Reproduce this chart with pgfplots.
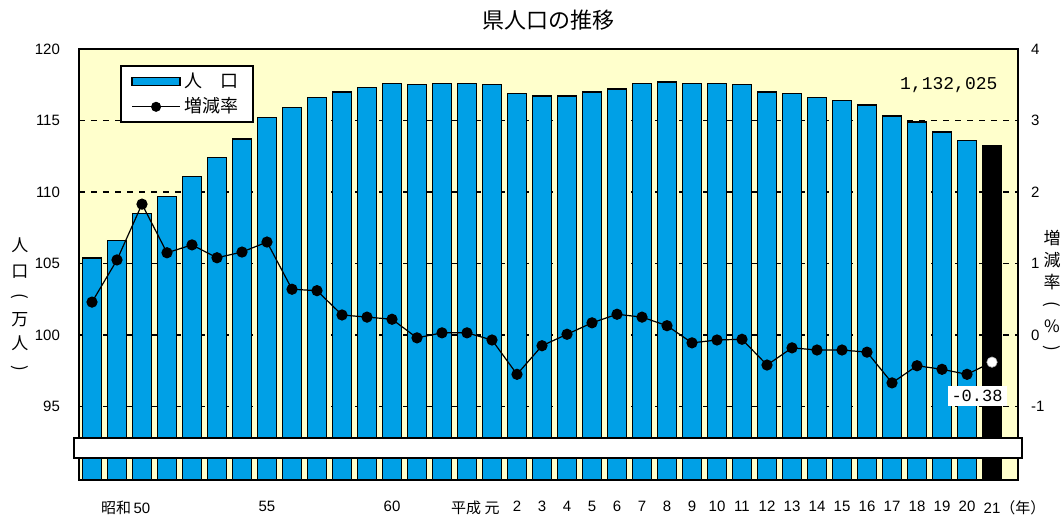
\documentclass[border=0pt]{standalone}
\usepackage{fontspec}
\setmainfont{Liberation Sans}
\newfontfamily\cjk{Noto Sans CJK JP}
\newfontfamily\mono{Liberation Mono}
\usepackage{pgfplots}
\usepackage{pgfplotstable}
\pgfplotsset{compat=1.18}
\definecolor{barblue}{RGB}{0,160,230}
\definecolor{bgyellow}{RGB}{255,255,204}

% x: 0 = 昭和48 ... 16 = 平成元 ... 36 = 平成21
\pgfplotstableread{
x pop rate
0 105.4 0.46
1 106.6 1.05
2 108.5 1.83
3 109.7 1.15
4 111.1 1.26
5 112.4 1.08
6 113.7 1.16
7 115.2 1.30
8 115.9 0.64
9 116.6 0.62
10 117.0 0.28
11 117.3 0.25
12 117.6 0.22
13 117.5 -0.04
14 117.6 0.03
15 117.6 0.03
16 117.5 -0.07
17 116.9 -0.55
18 116.7 -0.15
19 116.7 0.01
20 117.0 0.17
21 117.2 0.29
22 117.6 0.25
23 117.7 0.13
24 117.6 -0.11
25 117.6 -0.07
26 117.5 -0.06
27 117.0 -0.42
28 116.9 -0.18
29 116.6 -0.21
30 116.4 -0.21
31 116.1 -0.24
32 115.3 -0.67
33 114.9 -0.43
34 114.2 -0.48
35 113.6 -0.55
36 113.2 -0.38
}\datatable

\newcommand{\vlp}{\rotatebox[origin=c]{-90}{(}}
\newcommand{\vrp}{\rotatebox[origin=c]{-90}{)}}

\begin{document}
\begin{tikzpicture}
\pgfplotsset{
  base/.style={
    scale only axis, width=469.5pt, height=215.5pt,
    at={(0pt,0pt)}, anchor=south west,
    xmin=-0.52, xmax=37.04,
    major tick length=0pt,
    /pgf/number format/assume math mode=true,
    tick label style={font=\fontsize{7.5}{9}\selectfont},
  }
}
\begin{axis}[base,
    ymin=89.86, ymax=120,
    ytick={95,100,...,120},
    yticklabel style={xshift=-6pt},
    xtick={0,...,36},
    xticklabels={,,\llap{\cjk 昭和\,}50,,,,,55,,,,,60,,,,\llap{\cjk 平成\ }{\cjk 元},2,3,4,5,6,7,8,9,10,11,12,13,14,15,16,17,18,19,20,21\rlap{\cjk （年）}},
    xticklabel style={yshift=-7pt},
    axis background/.style={fill=bgyellow},
    axis line style={line width=1pt},
    ymajorgrids, grid style={dashed, black, line width=0.6pt},
    ybar, bar width=0.76, bar shift=0pt,
]
\addplot[fill=barblue, draw=black, line width=0.75pt, restrict x to domain=0:35] table[x=x, y=pop] {\datatable};
\addplot[fill=black, draw=black, line width=0.75pt] coordinates {(36,113.2)};
\end{axis}

\begin{axis}[base,
    ymin=-2.028, ymax=4,
    axis x line=none, axis y line*=right,
    axis line style={draw=none},
    ytick={-1,0,...,4},
    yticklabel style={anchor=west, xshift=3pt},
    clip=false,
    legend style={at={(0.044,0.962)}, anchor=north west, draw=black, line width=1pt,
      fill=white, font=\cjk\fontsize{9}{10}\selectfont, row sep=0pt,
      inner xsep=5pt, inner ysep=1.5pt, nodes={inner ysep=1.8pt}},
    legend cell align=left,
]
\addlegendimage{legend image code/.code={
  \draw[fill=barblue, draw=black, line width=0.75pt] (0pt,-2pt) rectangle (24pt,2pt);}}
\addlegendentry{人　口}
\addplot[black, line width=0.6pt, mark=*, mark size=2.5pt,
  legend image code/.code={
    \draw[black, line width=0.6pt] (0pt,0pt) -- (24pt,0pt);
    \fill[black] (12pt,0pt) circle (2.2pt);}]
  table[x=x, y=rate] {\datatable};
\addlegendentry{増減率}
\addplot[only marks, mark=*, mark size=2.6pt, mark options={fill=white, draw=gray!60, line width=0.3pt}, forget plot]
  coordinates {(36,-0.38)};
\node[anchor=east, font=\mono\fontsize{9}{10}\selectfont] at (axis cs:36.5,3.5) {1,132,025};
\node[fill=white, inner sep=2pt, font=\mono\fontsize{8.5}{10}\selectfont] at (axis cs:35.4,-0.85) {-0.38};
\end{axis}

% axis break band
\draw[fill=white, draw=black, line width=0.75pt] (-2.5pt,11pt) rectangle (471.5pt,21pt);

% title and axis titles
\node[font=\cjk\fontsize{11}{13}\selectfont] at (234.5pt,230pt) {県人口の推移};
\node[font=\cjk\fontsize{8.5}{12}\selectfont, align=center] at (-29.5pt,87pt)
  {人\\[1pt]口\\\vlp\\万\\人\\\vrp};
\node[font=\cjk\fontsize{8.5}{11}\selectfont, align=center] at (486.5pt,94pt)
  {増\\減\\率\\\vlp\\\%\\\vrp};

\pgfresetboundingbox
\path[use as bounding box] (-39.5pt,-19pt) rectangle (492.5pt,240pt);
\end{tikzpicture}
\end{document}
